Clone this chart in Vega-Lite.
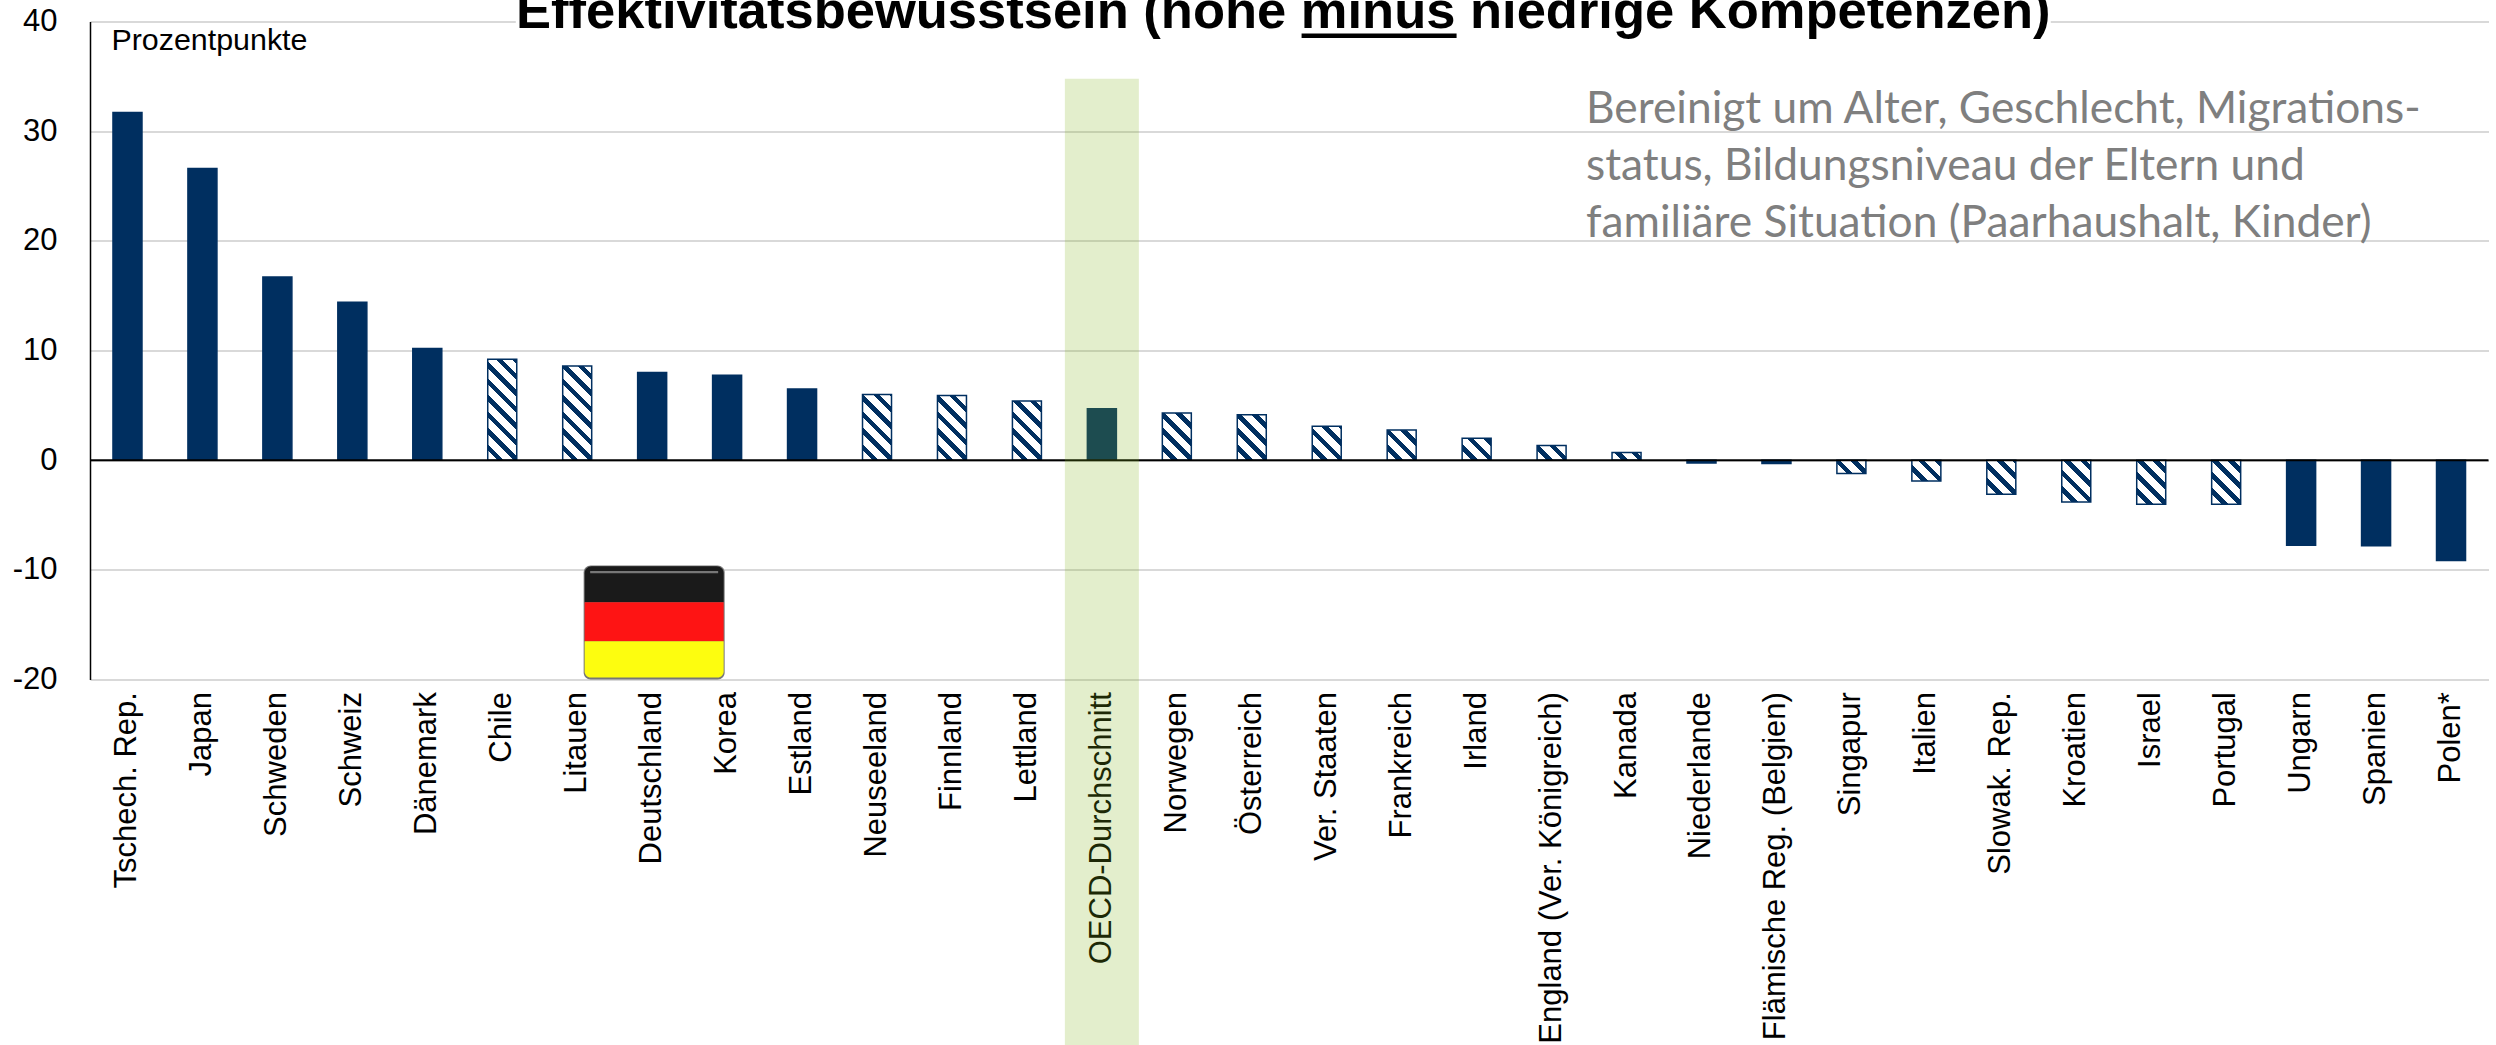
{"$schema":"https://vega.github.io/schema/vega-lite/v6.json","width":2398.5,"height":658,"autosize":{"type":"none"},"padding":{"left":90,"top":21.6,"right":7.5,"bottom":365.4},"background":"white","config":{"view":{"stroke":null},"font":"Liberation Sans"},
"encoding":{"x":{"field":"land","type":"nominal","title":null,"sort":null,"scale":{"paddingInner":0,"paddingOuter":0,"domain":["Tschech. Rep.","Japan","Schweden","Schweiz","Dänemark","Chile","Litauen","Deutschland","Korea","Estland","Neuseeland","Finnland","Lettland","OECD-Durchschnitt","Norwegen","Österreich","Ver. Staaten","Frankreich","Irland","England (Ver. Königreich)","Kanada","Niederlande","Flämische Reg. (Belgien)","Singapur","Italien","Slowak. Rep.","Kroatien","Israel","Portugal","Ungarn","Spanien","Polen*"]},"axis":{"labelAngle":-90,"labelFontSize":31,"labelFont":"Liberation Sans","labelColor":"#000000","labelPadding":12,"ticks":false,"domain":false,"grid":false,"labelOverlap":false,"labelLimit":500}},
"y":{"field":"wert","type":"quantitative","title":null,"scale":{"domain":[-20,40],"nice":false},"axis":{"values":[-20,-10,0,10,20,30,40],"labelExpr":"replace(datum.label, '−', '-')","labelFontSize":31,"labelFont":"Liberation Sans","labelColor":"#000000","labelPadding":33,"ticks":false,"domain":true,"domainColor":"#000000","domainWidth":1.5,"grid":true,"gridColor":"#d9d9d9","gridWidth":2}}},
"layer":[
{"data":{"values":[{"land":"Tschech. Rep.","wert":31.7},{"land":"Japan","wert":26.6},{"land":"Schweden","wert":16.7},{"land":"Schweiz","wert":14.4},{"land":"Dänemark","wert":10.2},{"land":"Deutschland","wert":8.0},{"land":"Korea","wert":7.75},{"land":"Estland","wert":6.5},{"land":"OECD-Durchschnitt","wert":4.7},{"land":"Niederlande","wert":-0.25},{"land":"Flämische Reg. (Belgien)","wert":-0.3},{"land":"Ungarn","wert":-7.75},{"land":"Spanien","wert":-7.8},{"land":"Polen*","wert":-9.15}]},"mark":{"type":"bar","size":29,"fill":"#002F60","stroke":"#002F60","strokeWidth":1.5}},
{"data":{"values":[{"land":"Chile","wert":9.2}]},"mark":{"type":"bar","size":29,"stroke":"#002F60","strokeWidth":1.5,"fill":{"gradient":"linear","x1":0,"y1":1,"x2":0.3473,"y2":-0.2084,"stops":[{"offset":0,"color":"#fff"},{"offset":0.075,"color":"#fff"},{"offset":0.075,"color":"#002F60"},{"offset":0.125,"color":"#002F60"},{"offset":0.125,"color":"#fff"},{"offset":0.2,"color":"#fff"},{"offset":0.2,"color":"#002F60"},{"offset":0.25,"color":"#002F60"},{"offset":0.25,"color":"#fff"},{"offset":0.325,"color":"#fff"},{"offset":0.325,"color":"#002F60"},{"offset":0.375,"color":"#002F60"},{"offset":0.375,"color":"#fff"},{"offset":0.45,"color":"#fff"},{"offset":0.45,"color":"#002F60"},{"offset":0.5,"color":"#002F60"},{"offset":0.5,"color":"#fff"},{"offset":0.575,"color":"#fff"},{"offset":0.575,"color":"#002F60"},{"offset":0.625,"color":"#002F60"},{"offset":0.625,"color":"#fff"},{"offset":0.7,"color":"#fff"},{"offset":0.7,"color":"#002F60"},{"offset":0.75,"color":"#002F60"},{"offset":0.75,"color":"#fff"},{"offset":0.825,"color":"#fff"},{"offset":0.825,"color":"#002F60"},{"offset":0.875,"color":"#002F60"},{"offset":0.875,"color":"#fff"},{"offset":0.95,"color":"#fff"},{"offset":0.95,"color":"#002F60"},{"offset":1,"color":"#002F60"}]}}},
{"data":{"values":[{"land":"Litauen","wert":8.6}]},"mark":{"type":"bar","size":29,"stroke":"#002F60","strokeWidth":1.5,"fill":{"gradient":"linear","x1":0,"y1":1,"x2":0.3933,"y2":-0.2789,"stops":[{"offset":0,"color":"#fff"},{"offset":0.075,"color":"#fff"},{"offset":0.075,"color":"#002F60"},{"offset":0.125,"color":"#002F60"},{"offset":0.125,"color":"#fff"},{"offset":0.2,"color":"#fff"},{"offset":0.2,"color":"#002F60"},{"offset":0.25,"color":"#002F60"},{"offset":0.25,"color":"#fff"},{"offset":0.325,"color":"#fff"},{"offset":0.325,"color":"#002F60"},{"offset":0.375,"color":"#002F60"},{"offset":0.375,"color":"#fff"},{"offset":0.45,"color":"#fff"},{"offset":0.45,"color":"#002F60"},{"offset":0.5,"color":"#002F60"},{"offset":0.5,"color":"#fff"},{"offset":0.575,"color":"#fff"},{"offset":0.575,"color":"#002F60"},{"offset":0.625,"color":"#002F60"},{"offset":0.625,"color":"#fff"},{"offset":0.7,"color":"#fff"},{"offset":0.7,"color":"#002F60"},{"offset":0.75,"color":"#002F60"},{"offset":0.75,"color":"#fff"},{"offset":0.825,"color":"#fff"},{"offset":0.825,"color":"#002F60"},{"offset":0.875,"color":"#002F60"},{"offset":0.875,"color":"#fff"},{"offset":0.95,"color":"#fff"},{"offset":0.95,"color":"#002F60"},{"offset":1,"color":"#002F60"}]}}},
{"data":{"values":[{"land":"Neuseeland","wert":6.0}]},"mark":{"type":"bar","size":29,"stroke":"#002F60","strokeWidth":1.5,"fill":{"gradient":"linear","x1":0,"y1":1,"x2":0.7403,"y2":-0.6797,"stops":[{"offset":0,"color":"#fff"},{"offset":0.075,"color":"#fff"},{"offset":0.075,"color":"#002F60"},{"offset":0.125,"color":"#002F60"},{"offset":0.125,"color":"#fff"},{"offset":0.2,"color":"#fff"},{"offset":0.2,"color":"#002F60"},{"offset":0.25,"color":"#002F60"},{"offset":0.25,"color":"#fff"},{"offset":0.325,"color":"#fff"},{"offset":0.325,"color":"#002F60"},{"offset":0.375,"color":"#002F60"},{"offset":0.375,"color":"#fff"},{"offset":0.45,"color":"#fff"},{"offset":0.45,"color":"#002F60"},{"offset":0.5,"color":"#002F60"},{"offset":0.5,"color":"#fff"},{"offset":0.575,"color":"#fff"},{"offset":0.575,"color":"#002F60"},{"offset":0.625,"color":"#002F60"},{"offset":0.625,"color":"#fff"},{"offset":0.7,"color":"#fff"},{"offset":0.7,"color":"#002F60"},{"offset":0.75,"color":"#002F60"},{"offset":0.75,"color":"#fff"},{"offset":0.825,"color":"#fff"},{"offset":0.825,"color":"#002F60"},{"offset":0.875,"color":"#002F60"},{"offset":0.875,"color":"#fff"},{"offset":0.95,"color":"#fff"},{"offset":0.95,"color":"#002F60"},{"offset":1,"color":"#002F60"}]}}},
{"data":{"values":[{"land":"Finnland","wert":5.9}]},"mark":{"type":"bar","size":29,"stroke":"#002F60","strokeWidth":1.5,"fill":{"gradient":"linear","x1":0,"y1":1,"x2":0.7615,"y2":-0.6989,"stops":[{"offset":0,"color":"#fff"},{"offset":0.075,"color":"#fff"},{"offset":0.075,"color":"#002F60"},{"offset":0.125,"color":"#002F60"},{"offset":0.125,"color":"#fff"},{"offset":0.2,"color":"#fff"},{"offset":0.2,"color":"#002F60"},{"offset":0.25,"color":"#002F60"},{"offset":0.25,"color":"#fff"},{"offset":0.325,"color":"#fff"},{"offset":0.325,"color":"#002F60"},{"offset":0.375,"color":"#002F60"},{"offset":0.375,"color":"#fff"},{"offset":0.45,"color":"#fff"},{"offset":0.45,"color":"#002F60"},{"offset":0.5,"color":"#002F60"},{"offset":0.5,"color":"#fff"},{"offset":0.575,"color":"#fff"},{"offset":0.575,"color":"#002F60"},{"offset":0.625,"color":"#002F60"},{"offset":0.625,"color":"#fff"},{"offset":0.7,"color":"#fff"},{"offset":0.7,"color":"#002F60"},{"offset":0.75,"color":"#002F60"},{"offset":0.75,"color":"#fff"},{"offset":0.825,"color":"#fff"},{"offset":0.825,"color":"#002F60"},{"offset":0.875,"color":"#002F60"},{"offset":0.875,"color":"#fff"},{"offset":0.95,"color":"#fff"},{"offset":0.95,"color":"#002F60"},{"offset":1,"color":"#002F60"}]}}},
{"data":{"values":[{"land":"Lettland","wert":5.4}]},"mark":{"type":"bar","size":29,"stroke":"#002F60","strokeWidth":1.5,"fill":{"gradient":"linear","x1":0,"y1":1,"x2":0.8808,"y2":-0.798,"stops":[{"offset":0,"color":"#fff"},{"offset":0.075,"color":"#fff"},{"offset":0.075,"color":"#002F60"},{"offset":0.125,"color":"#002F60"},{"offset":0.125,"color":"#fff"},{"offset":0.2,"color":"#fff"},{"offset":0.2,"color":"#002F60"},{"offset":0.25,"color":"#002F60"},{"offset":0.25,"color":"#fff"},{"offset":0.325,"color":"#fff"},{"offset":0.325,"color":"#002F60"},{"offset":0.375,"color":"#002F60"},{"offset":0.375,"color":"#fff"},{"offset":0.45,"color":"#fff"},{"offset":0.45,"color":"#002F60"},{"offset":0.5,"color":"#002F60"},{"offset":0.5,"color":"#fff"},{"offset":0.575,"color":"#fff"},{"offset":0.575,"color":"#002F60"},{"offset":0.625,"color":"#002F60"},{"offset":0.625,"color":"#fff"},{"offset":0.7,"color":"#fff"},{"offset":0.7,"color":"#002F60"},{"offset":0.75,"color":"#002F60"},{"offset":0.75,"color":"#fff"},{"offset":0.825,"color":"#fff"},{"offset":0.825,"color":"#002F60"},{"offset":0.875,"color":"#002F60"},{"offset":0.875,"color":"#fff"},{"offset":0.95,"color":"#fff"},{"offset":0.95,"color":"#002F60"},{"offset":1,"color":"#002F60"}]}}},
{"data":{"values":[{"land":"Norwegen","wert":4.3}]},"mark":{"type":"bar","size":29,"stroke":"#002F60","strokeWidth":1.5,"fill":{"gradient":"linear","x1":0,"y1":1,"x2":0.7796,"y2":-0.2688,"stops":[{"offset":0,"color":"#fff"},{"offset":0.12,"color":"#fff"},{"offset":0.12,"color":"#002F60"},{"offset":0.2,"color":"#002F60"},{"offset":0.2,"color":"#fff"},{"offset":0.32,"color":"#fff"},{"offset":0.32,"color":"#002F60"},{"offset":0.4,"color":"#002F60"},{"offset":0.4,"color":"#fff"},{"offset":0.52,"color":"#fff"},{"offset":0.52,"color":"#002F60"},{"offset":0.6,"color":"#002F60"},{"offset":0.6,"color":"#fff"},{"offset":0.72,"color":"#fff"},{"offset":0.72,"color":"#002F60"},{"offset":0.8,"color":"#002F60"},{"offset":0.8,"color":"#fff"},{"offset":0.92,"color":"#fff"},{"offset":0.92,"color":"#002F60"},{"offset":1,"color":"#002F60"}]}}},
{"data":{"values":[{"land":"Österreich","wert":4.15}]},"mark":{"type":"bar","size":29,"stroke":"#002F60","strokeWidth":1.5,"fill":{"gradient":"linear","x1":0,"y1":1,"x2":0.8219,"y2":-0.2896,"stops":[{"offset":0,"color":"#fff"},{"offset":0.12,"color":"#fff"},{"offset":0.12,"color":"#002F60"},{"offset":0.2,"color":"#002F60"},{"offset":0.2,"color":"#fff"},{"offset":0.32,"color":"#fff"},{"offset":0.32,"color":"#002F60"},{"offset":0.4,"color":"#002F60"},{"offset":0.4,"color":"#fff"},{"offset":0.52,"color":"#fff"},{"offset":0.52,"color":"#002F60"},{"offset":0.6,"color":"#002F60"},{"offset":0.6,"color":"#fff"},{"offset":0.72,"color":"#fff"},{"offset":0.72,"color":"#002F60"},{"offset":0.8,"color":"#002F60"},{"offset":0.8,"color":"#fff"},{"offset":0.92,"color":"#fff"},{"offset":0.92,"color":"#002F60"},{"offset":1,"color":"#002F60"}]}}},
{"data":{"values":[{"land":"Ver. Staaten","wert":3.1}]},"mark":{"type":"bar","size":29,"stroke":"#002F60","strokeWidth":1.5,"fill":{"gradient":"linear","x1":0,"y1":1,"x2":0.9584,"y2":-0.1237,"stops":[{"offset":0,"color":"#fff"},{"offset":0.15,"color":"#fff"},{"offset":0.15,"color":"#002F60"},{"offset":0.25,"color":"#002F60"},{"offset":0.25,"color":"#fff"},{"offset":0.4,"color":"#fff"},{"offset":0.4,"color":"#002F60"},{"offset":0.5,"color":"#002F60"},{"offset":0.5,"color":"#fff"},{"offset":0.65,"color":"#fff"},{"offset":0.65,"color":"#002F60"},{"offset":0.75,"color":"#002F60"},{"offset":0.75,"color":"#fff"},{"offset":0.9,"color":"#fff"},{"offset":0.9,"color":"#002F60"},{"offset":1,"color":"#002F60"}]}}},
{"data":{"values":[{"land":"Frankreich","wert":2.75}]},"mark":{"type":"bar","size":29,"stroke":"#002F60","strokeWidth":1.5,"fill":{"gradient":"linear","x1":0,"y1":1,"x2":1.0918,"y2":-0.1369,"stops":[{"offset":0,"color":"#fff"},{"offset":0.15,"color":"#fff"},{"offset":0.15,"color":"#002F60"},{"offset":0.25,"color":"#002F60"},{"offset":0.25,"color":"#fff"},{"offset":0.4,"color":"#fff"},{"offset":0.4,"color":"#002F60"},{"offset":0.5,"color":"#002F60"},{"offset":0.5,"color":"#fff"},{"offset":0.65,"color":"#fff"},{"offset":0.65,"color":"#002F60"},{"offset":0.75,"color":"#002F60"},{"offset":0.75,"color":"#fff"},{"offset":0.9,"color":"#fff"},{"offset":0.9,"color":"#002F60"},{"offset":1,"color":"#002F60"}]}}},
{"data":{"values":[{"land":"Irland","wert":2.0}]},"mark":{"type":"bar","size":29,"stroke":"#002F60","strokeWidth":1.5,"fill":{"gradient":"linear","x1":0,"y1":1,"x2":1.4489,"y2":-0.0939,"stops":[{"offset":0,"color":"#fff"},{"offset":0.15,"color":"#fff"},{"offset":0.15,"color":"#002F60"},{"offset":0.25,"color":"#002F60"},{"offset":0.25,"color":"#fff"},{"offset":0.4,"color":"#fff"},{"offset":0.4,"color":"#002F60"},{"offset":0.5,"color":"#002F60"},{"offset":0.5,"color":"#fff"},{"offset":0.65,"color":"#fff"},{"offset":0.65,"color":"#002F60"},{"offset":0.75,"color":"#002F60"},{"offset":0.75,"color":"#fff"},{"offset":0.9,"color":"#fff"},{"offset":0.9,"color":"#002F60"},{"offset":1,"color":"#002F60"}]}}},
{"data":{"values":[{"land":"England (Ver. Königreich)","wert":1.35}]},"mark":{"type":"bar","size":29,"stroke":"#002F60","strokeWidth":1.5,"fill":{"gradient":"linear","x1":0,"y1":1,"x2":1.8057,"y2":0.0783,"stops":[{"offset":0,"color":"#fff"},{"offset":0.15,"color":"#fff"},{"offset":0.15,"color":"#002F60"},{"offset":0.25,"color":"#002F60"},{"offset":0.25,"color":"#fff"},{"offset":0.4,"color":"#fff"},{"offset":0.4,"color":"#002F60"},{"offset":0.5,"color":"#002F60"},{"offset":0.5,"color":"#fff"},{"offset":0.65,"color":"#fff"},{"offset":0.65,"color":"#002F60"},{"offset":0.75,"color":"#002F60"},{"offset":0.75,"color":"#fff"},{"offset":0.9,"color":"#fff"},{"offset":0.9,"color":"#002F60"},{"offset":1,"color":"#002F60"}]}}},
{"data":{"values":[{"land":"Kanada","wert":0.7}]},"mark":{"type":"bar","size":29,"stroke":"#002F60","strokeWidth":1.5,"fill":{"gradient":"linear","x1":0,"y1":1,"x2":2.1267,"y2":0.4356,"stops":[{"offset":0,"color":"#fff"},{"offset":0.15,"color":"#fff"},{"offset":0.15,"color":"#002F60"},{"offset":0.25,"color":"#002F60"},{"offset":0.25,"color":"#fff"},{"offset":0.4,"color":"#fff"},{"offset":0.4,"color":"#002F60"},{"offset":0.5,"color":"#002F60"},{"offset":0.5,"color":"#fff"},{"offset":0.65,"color":"#fff"},{"offset":0.65,"color":"#002F60"},{"offset":0.75,"color":"#002F60"},{"offset":0.75,"color":"#fff"},{"offset":0.9,"color":"#fff"},{"offset":0.9,"color":"#002F60"},{"offset":1,"color":"#002F60"}]}}},
{"data":{"values":[{"land":"Singapur","wert":-1.2}]},"mark":{"type":"bar","size":29,"stroke":"#002F60","strokeWidth":1.5,"fill":{"gradient":"linear","x1":0,"y1":1,"x2":1.8857,"y2":0.1419,"stops":[{"offset":0,"color":"#fff"},{"offset":0.15,"color":"#fff"},{"offset":0.15,"color":"#002F60"},{"offset":0.25,"color":"#002F60"},{"offset":0.25,"color":"#fff"},{"offset":0.4,"color":"#fff"},{"offset":0.4,"color":"#002F60"},{"offset":0.5,"color":"#002F60"},{"offset":0.5,"color":"#fff"},{"offset":0.65,"color":"#fff"},{"offset":0.65,"color":"#002F60"},{"offset":0.75,"color":"#002F60"},{"offset":0.75,"color":"#fff"},{"offset":0.9,"color":"#fff"},{"offset":0.9,"color":"#002F60"},{"offset":1,"color":"#002F60"}]}}},
{"data":{"values":[{"land":"Italien","wert":-1.9}]},"mark":{"type":"bar","size":29,"stroke":"#002F60","strokeWidth":1.5,"fill":{"gradient":"linear","x1":0,"y1":1,"x2":1.5024,"y2":-0.0777,"stops":[{"offset":0,"color":"#fff"},{"offset":0.15,"color":"#fff"},{"offset":0.15,"color":"#002F60"},{"offset":0.25,"color":"#002F60"},{"offset":0.25,"color":"#fff"},{"offset":0.4,"color":"#fff"},{"offset":0.4,"color":"#002F60"},{"offset":0.5,"color":"#002F60"},{"offset":0.5,"color":"#fff"},{"offset":0.65,"color":"#fff"},{"offset":0.65,"color":"#002F60"},{"offset":0.75,"color":"#002F60"},{"offset":0.75,"color":"#fff"},{"offset":0.9,"color":"#fff"},{"offset":0.9,"color":"#002F60"},{"offset":1,"color":"#002F60"}]}}},
{"data":{"values":[{"land":"Slowak. Rep.","wert":-3.1}]},"mark":{"type":"bar","size":29,"stroke":"#002F60","strokeWidth":1.5,"fill":{"gradient":"linear","x1":0,"y1":1,"x2":0.9584,"y2":-0.1237,"stops":[{"offset":0,"color":"#fff"},{"offset":0.15,"color":"#fff"},{"offset":0.15,"color":"#002F60"},{"offset":0.25,"color":"#002F60"},{"offset":0.25,"color":"#fff"},{"offset":0.4,"color":"#fff"},{"offset":0.4,"color":"#002F60"},{"offset":0.5,"color":"#002F60"},{"offset":0.5,"color":"#fff"},{"offset":0.65,"color":"#fff"},{"offset":0.65,"color":"#002F60"},{"offset":0.75,"color":"#002F60"},{"offset":0.75,"color":"#fff"},{"offset":0.9,"color":"#fff"},{"offset":0.9,"color":"#002F60"},{"offset":1,"color":"#002F60"}]}}},
{"data":{"values":[{"land":"Kroatien","wert":-3.8}]},"mark":{"type":"bar","size":29,"stroke":"#002F60","strokeWidth":1.5,"fill":{"gradient":"linear","x1":0,"y1":1,"x2":0.9273,"y2":-0.3333,"stops":[{"offset":0,"color":"#fff"},{"offset":0.12,"color":"#fff"},{"offset":0.12,"color":"#002F60"},{"offset":0.2,"color":"#002F60"},{"offset":0.2,"color":"#fff"},{"offset":0.32,"color":"#fff"},{"offset":0.32,"color":"#002F60"},{"offset":0.4,"color":"#002F60"},{"offset":0.4,"color":"#fff"},{"offset":0.52,"color":"#fff"},{"offset":0.52,"color":"#002F60"},{"offset":0.6,"color":"#002F60"},{"offset":0.6,"color":"#fff"},{"offset":0.72,"color":"#fff"},{"offset":0.72,"color":"#002F60"},{"offset":0.8,"color":"#002F60"},{"offset":0.8,"color":"#fff"},{"offset":0.92,"color":"#fff"},{"offset":0.92,"color":"#002F60"},{"offset":1,"color":"#002F60"}]}}},
{"data":{"values":[{"land":"Israel","wert":-4.0},{"land":"Portugal","wert":-4.0}]},"mark":{"type":"bar","size":29,"stroke":"#002F60","strokeWidth":1.5,"fill":{"gradient":"linear","x1":0,"y1":1,"x2":0.8643,"y2":-0.3085,"stops":[{"offset":0,"color":"#fff"},{"offset":0.12,"color":"#fff"},{"offset":0.12,"color":"#002F60"},{"offset":0.2,"color":"#002F60"},{"offset":0.2,"color":"#fff"},{"offset":0.32,"color":"#fff"},{"offset":0.32,"color":"#002F60"},{"offset":0.4,"color":"#002F60"},{"offset":0.4,"color":"#fff"},{"offset":0.52,"color":"#fff"},{"offset":0.52,"color":"#002F60"},{"offset":0.6,"color":"#002F60"},{"offset":0.6,"color":"#fff"},{"offset":0.72,"color":"#fff"},{"offset":0.72,"color":"#002F60"},{"offset":0.8,"color":"#002F60"},{"offset":0.8,"color":"#fff"},{"offset":0.92,"color":"#fff"},{"offset":0.92,"color":"#002F60"},{"offset":1,"color":"#002F60"}]}}},
{"data":{"values":[{"wert":0}]},"mark":{"type":"rule","color":"#000000","strokeWidth":2},"encoding":{"x":null}},
{"data":{"values":[{"land":"OECD-Durchschnitt","wert":34.8,"bis":-53.4}]},"mark":{"type":"bar","size":74,"color":"#81b31b","opacity":0.224},"encoding":{"y2":{"field":"bis"}}},
{"data":{"values":[{"land":"Deutschland","wert":-9.6,"bis":-19.98}]},"mark":{"type":"bar","size":141,"color":"#777777","xOffset":2,"cornerRadius":7},"encoding":{"y2":{"field":"bis"}}},
{"data":{"values":[{"land":"Deutschland","wert":-9.66,"bis":-12.95}]},"mark":{"type":"bar","size":139,"color":"#1a1a1a","xOffset":2,"cornerRadiusTopLeft":7,"cornerRadiusTopRight":7},"encoding":{"y2":{"field":"bis"}}},
{"data":{"values":[{"land":"Deutschland","wert":-12.95,"bis":-16.5}]},"mark":{"type":"bar","size":139,"color":"#fe1414","xOffset":2},"encoding":{"y2":{"field":"bis"}}},
{"data":{"values":[{"land":"Deutschland","wert":-16.5,"bis":-19.8}]},"mark":{"type":"bar","size":139,"color":"#fdfd0f","xOffset":2,"cornerRadiusBottomLeft":6,"cornerRadiusBottomRight":6},"encoding":{"y2":{"field":"bis"}}},
{"data":{"values":[{"land":"Deutschland","wert":-10.1,"bis":-10.3}]},"mark":{"type":"bar","size":128,"color":"#777777","xOffset":2},"encoding":{"y2":{"field":"bis"}}},
{"data":{"values":[{"land":"Österreich","wert":40.2,"bis":39.6}]},"mark":{"type":"bar","size":1535,"color":"#ffffff","xOffset":31.5},"encoding":{"y2":{"field":"bis"}}},
{"data":{"values":[{"land":"Österreich","wert":39.43,"text":"Effektivitätsbewusstsein (hohe minus niedrige Kompetenzen)"}]},"mark":{"type":"text","font":"Liberation Sans","fontWeight":"bold","fontSize":52.5,"align":"center","baseline":"alphabetic","dx":31.5,"color":"#000000"},"encoding":{"text":{"field":"text"}}},
{"data":{"values":[{"land":"Frankreich","wert":38.91,"bis":38.51}]},"mark":{"type":"bar","size":155,"color":"#000000","xOffset":-22.6},"encoding":{"y2":{"field":"bis"}}},
{"data":{"values":[{"land":"Tschech. Rep.","wert":38.2,"text":"Prozentpunkte"}]},"mark":{"type":"text","font":"Liberation Sans","fontSize":30.4,"align":"left","baseline":"middle","dx":-16,"color":"#000000"},"encoding":{"text":{"field":"text"}}},
{"data":{"values":[{"land":"Kanada","wert":31.9,"text":"Bereinigt um Alter, Geschlecht, Migrations-"},{"land":"Kanada","wert":26.7,"text":"status, Bildungsniveau der Eltern und"},{"land":"Kanada","wert":21.5,"text":"familiäre Situation (Paarhaushalt, Kinder)"}]},"mark":{"type":"text","font":"Lato","fontSize":44.3,"align":"left","baseline":"middle","dx":-40.5,"color":"#7f7f7f"},"encoding":{"text":{"field":"text"}}}
]}
